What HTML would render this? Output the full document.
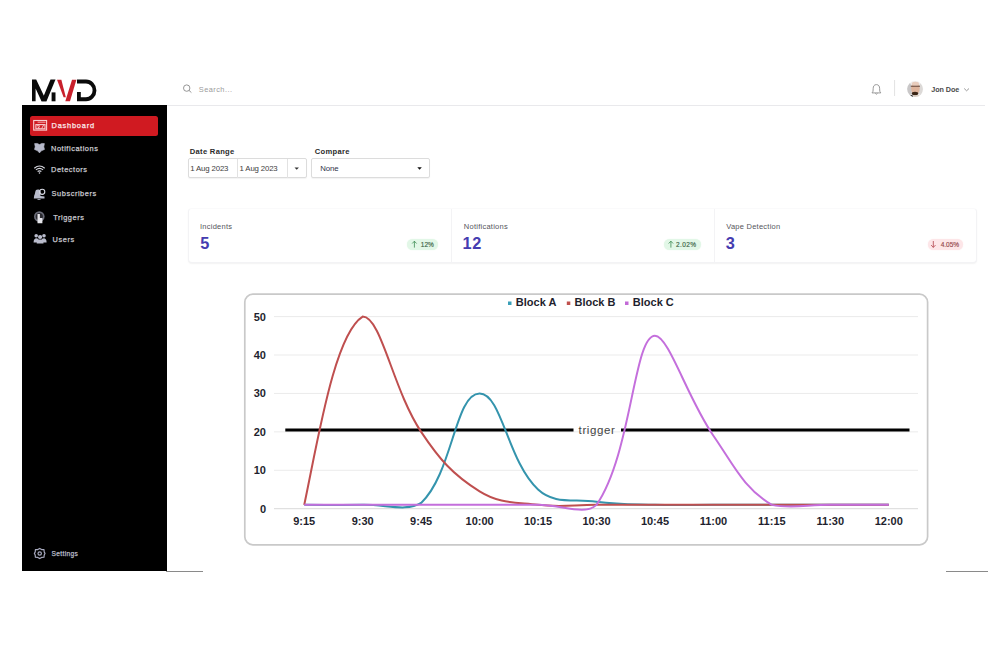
<!DOCTYPE html>
<html><head><meta charset="utf-8">
<style>
*{margin:0;padding:0;box-sizing:border-box}
html,body{width:996px;height:646px;background:#fff;overflow:hidden;font-family:"Liberation Sans",sans-serif}
.a{position:absolute;white-space:nowrap}
.sb{position:absolute;left:22px;top:104.7px;width:144.5px;height:466.8px;background:#000}
.act{position:absolute;left:30px;top:116px;width:128px;height:19.5px;background:#d01a21;border-radius:2.5px}
.nav{font-size:7.4px;font-weight:normal;-webkit-text-stroke:0.25px currentColor;color:#c9c9cf;letter-spacing:0.55px}
.hdrline{position:absolute;left:166.5px;top:104.8px;width:818px;height:1px;background:#e9e9ec}
.lbl{font-size:7.6px;font-weight:bold;color:#2b2b2b;letter-spacing:0.3px}
.box{position:absolute;border:1px solid #dcdcdc;border-radius:2px;background:#fff;box-shadow:0 1px 1px rgba(0,0,0,0.05)}
.dtxt{font-size:7.8px;color:#3e3e3e;letter-spacing:-0.15px}
.card{position:absolute;left:187.5px;top:208.3px;width:789.5px;height:54.5px;background:#fff;border:1px solid #f3f3f5;border-top-color:#fafafb;border-radius:4px;box-shadow:0 1px 1.5px rgba(0,0,0,0.05)}
.div{position:absolute;top:209px;width:1px;height:53px;background:#f3f3f5}
.ctitle{font-size:7.5px;color:#55555c;letter-spacing:0.25px}
.num{font-size:16.3px;font-weight:bold;color:#453cb0;letter-spacing:0.9px}
.pill{position:absolute;height:11px;border-radius:5.5px;font-size:6.5px;line-height:11px;text-align:center;font-weight:normal;-webkit-text-stroke:0.15px currentColor;letter-spacing:0px}
.g{background:#e2f7e7;color:#3b6446;box-shadow:0 0 1.2px #e2f7e7}
.r{background:#fde6e8;color:#94474c;box-shadow:0 0 1.2px #fde6e8}
</style></head><body>
<svg width="996" height="646" viewBox="0 0 996 646" style="position:absolute;left:0;top:0">
<rect x="244.8" y="294.2" width="682.8" height="250.6" rx="8" ry="8" fill="#fff" stroke="#c9c9c9" stroke-width="1.7"/>
<line x1="274.0" y1="316.60" x2="918.0" y2="316.60" stroke="#ebebeb" stroke-width="1"/>
<line x1="274.0" y1="355.02" x2="918.0" y2="355.02" stroke="#ebebeb" stroke-width="1"/>
<line x1="274.0" y1="393.44" x2="918.0" y2="393.44" stroke="#ebebeb" stroke-width="1"/>
<line x1="274.0" y1="431.86" x2="918.0" y2="431.86" stroke="#ebebeb" stroke-width="1"/>
<line x1="274.0" y1="470.28" x2="918.0" y2="470.28" stroke="#ebebeb" stroke-width="1"/>
<line x1="274.0" y1="508.70" x2="918.0" y2="508.70" stroke="#d9d9d9" stroke-width="1"/>
<text x="266" y="320.60" text-anchor="end" font-family="Liberation Sans" font-weight="bold" font-size="11" fill="#1f1f2e">50</text>
<text x="266" y="359.02" text-anchor="end" font-family="Liberation Sans" font-weight="bold" font-size="11" fill="#1f1f2e">40</text>
<text x="266" y="397.44" text-anchor="end" font-family="Liberation Sans" font-weight="bold" font-size="11" fill="#1f1f2e">30</text>
<text x="266" y="435.86" text-anchor="end" font-family="Liberation Sans" font-weight="bold" font-size="11" fill="#1f1f2e">20</text>
<text x="266" y="474.28" text-anchor="end" font-family="Liberation Sans" font-weight="bold" font-size="11" fill="#1f1f2e">10</text>
<text x="266" y="512.70" text-anchor="end" font-family="Liberation Sans" font-weight="bold" font-size="11" fill="#1f1f2e">0</text>
<text x="304.23" y="525" text-anchor="middle" font-family="Liberation Sans" font-weight="bold" font-size="11" fill="#1f1f2e">9:15</text>
<text x="362.68" y="525" text-anchor="middle" font-family="Liberation Sans" font-weight="bold" font-size="11" fill="#1f1f2e">9:30</text>
<text x="421.14" y="525" text-anchor="middle" font-family="Liberation Sans" font-weight="bold" font-size="11" fill="#1f1f2e">9:45</text>
<text x="479.59" y="525" text-anchor="middle" font-family="Liberation Sans" font-weight="bold" font-size="11" fill="#1f1f2e">10:00</text>
<text x="538.05" y="525" text-anchor="middle" font-family="Liberation Sans" font-weight="bold" font-size="11" fill="#1f1f2e">10:15</text>
<text x="596.50" y="525" text-anchor="middle" font-family="Liberation Sans" font-weight="bold" font-size="11" fill="#1f1f2e">10:30</text>
<text x="654.95" y="525" text-anchor="middle" font-family="Liberation Sans" font-weight="bold" font-size="11" fill="#1f1f2e">10:45</text>
<text x="713.41" y="525" text-anchor="middle" font-family="Liberation Sans" font-weight="bold" font-size="11" fill="#1f1f2e">11:00</text>
<text x="771.86" y="525" text-anchor="middle" font-family="Liberation Sans" font-weight="bold" font-size="11" fill="#1f1f2e">11:15</text>
<text x="830.32" y="525" text-anchor="middle" font-family="Liberation Sans" font-weight="bold" font-size="11" fill="#1f1f2e">11:30</text>
<text x="888.77" y="525" text-anchor="middle" font-family="Liberation Sans" font-weight="bold" font-size="11" fill="#1f1f2e">12:00</text>
<line x1="285.3" y1="430" x2="573.5" y2="430" stroke="#000" stroke-width="3"/>
<line x1="621" y1="430" x2="909.5" y2="430" stroke="#000" stroke-width="3"/>
<text x="597" y="433.8" text-anchor="middle" font-family="Liberation Sans" font-size="11.5" letter-spacing="0.6" fill="#444">trigger</text>
<path d="M304.23 504.86 C327.61 504.86 339.31 505.24 362.68 504.86 C386.07 504.47 406.16 512.00 421.14 502.94 C452.92 472.64 455.05 393.44 479.59 393.44 C501.82 393.44 507.51 461.19 538.05 489.49 C554.27 504.53 572.88 498.68 596.50 501.78 C619.64 504.83 631.56 504.24 654.95 504.86 C678.32 505.47 690.03 504.86 713.41 504.86 C736.79 504.86 748.48 504.86 771.86 504.86 C795.25 504.86 806.94 504.86 830.32 504.86 C853.70 504.86 865.39 504.86 888.77 504.86" fill="none" stroke="#3494ad" stroke-width="2"/>
<path d="M304.23 504.86 C318.00 440.00 334.44 334.24 362.68 316.60 C381.20 316.60 392.72 389.37 421.14 431.86 C439.48 459.30 452.38 474.42 479.59 491.41 C499.15 503.62 514.36 502.13 538.05 504.86 C561.13 507.51 573.12 504.86 596.50 504.86 C619.88 504.86 631.57 504.86 654.95 504.86 C678.34 504.86 690.03 504.86 713.41 504.86 C736.79 504.86 748.48 504.86 771.86 504.86 C795.25 504.86 806.94 504.86 830.32 504.86 C853.70 504.86 865.39 504.86 888.77 504.86" fill="none" stroke="#bf4f4f" stroke-width="2"/>
<path d="M304.23 504.86 C327.61 504.86 339.30 504.86 362.68 504.86 C386.06 504.86 397.75 504.86 421.14 504.86 C444.52 504.86 456.21 504.86 479.59 504.86 C502.97 504.86 514.66 504.86 538.05 504.86 C561.43 504.86 584.98 516.00 596.50 504.86 C631.75 453.89 633.66 335.81 654.95 335.81 C668.73 335.81 687.17 397.76 713.41 435.70 C733.94 465.38 743.45 488.05 771.86 504.86 C790.21 508.70 806.94 504.86 830.32 504.86 C853.70 504.86 865.39 504.86 888.77 504.86" fill="none" stroke="#c46fdc" stroke-width="2"/>
<rect x="508" y="301.5" width="3.5" height="3.5" fill="#3a9fb8"/>
<text x="515.8" y="305.7" font-family="Liberation Sans" font-weight="bold" font-size="11" fill="#1f1f2e">Block A</text>
<rect x="566.8" y="301.5" width="3.5" height="3.5" fill="#c0504d"/>
<text x="574.5" y="305.7" font-family="Liberation Sans" font-weight="bold" font-size="11" fill="#1f1f2e">Block B</text>
<rect x="625" y="301.5" width="3.5" height="3.5" fill="#c26ad6"/>
<text x="632.8" y="305.7" font-family="Liberation Sans" font-weight="bold" font-size="11" fill="#1f1f2e">Block C</text>
<g fill="#0a0a0a"><polygon points="32,79.6 36.2,79.6 46.5,101.3 41.5,101.3 35.6,88.5 35.6,101.3 32,101.3"/><polygon points="50.5,79.6 55.5,79.6 46.5,101.3 41.5,101.3"/><rect x="51.6" y="92.4" width="3.9" height="8.9"/></g>
<g fill="#c8202c"><polygon points="57,79.8 61.4,79.8 65.8,97.3 63.6,97.3"/><polygon points="72,79.8 76.4,79.8 70,101.3 65.3,101.3"/></g>
<path d="M77 79.6 H86 A10.4 10.85 0 0 1 86 101.3 H77 V92 H80.8 V97.3 H86 A6.6 6.85 0 0 0 86 83.6 H77 Z" fill="#0a0a0a"/>
</svg>
<div class="sb"></div>
<div class="act"></div>

<div class="a nav" style="left:51.6px;top:121.3px;color:#fbe9ea;letter-spacing:0.78px">Dashboard</div>
<div class="a nav" style="left:51px;top:144.2px">Notifications</div>
<div class="a nav" style="left:51px;top:165.3px">Detectors</div>
<div class="a nav" style="left:51.6px;top:189.3px">Subscribers</div>
<div class="a nav" style="left:53.2px;top:212.8px">Triggers</div>
<div class="a nav" style="left:52.6px;top:235.2px">Users</div>
<div class="a nav" style="left:51.5px;top:549.8px;font-size:6.6px;color:#babbc8;letter-spacing:0.35px">Settings</div>
<!-- header -->
<div class="a" style="left:198.8px;top:85.3px;font-size:7.4px;color:#9b9b9b;letter-spacing:0.45px">Search...</div>
<div class="a" style="left:931.3px;top:85.4px;font-size:7.2px;font-weight:bold;color:#4a4a4a;letter-spacing:-0.05px">Jon Doe</div>
<div class="hdrline"></div>
<!-- filters -->
<div class="a lbl" style="left:189.8px;top:147px">Date Range</div>
<div class="a lbl" style="left:314.8px;top:147px">Compare</div>
<div class="box" style="left:187.7px;top:158.3px;width:119px;height:20.2px"></div>
<div class="a" style="left:236.8px;top:158.8px;width:1px;height:19px;background:#e2e2e2"></div>
<div class="a" style="left:286.9px;top:158.8px;width:1px;height:19px;background:#e2e2e2"></div>
<div class="a dtxt" style="left:190.3px;top:164.2px">1 Aug 2023</div>
<div class="a dtxt" style="left:239.6px;top:164.2px">1 Aug 2023</div>
<div class="box" style="left:311.2px;top:158.3px;width:119.3px;height:20.2px"></div>
<div class="a dtxt" style="left:320.3px;top:164.2px;color:#2f3348">None</div>
<!-- stat card -->
<div class="card"></div>
<div class="div" style="left:451px"></div>
<div class="div" style="left:713.5px"></div>
<div class="a ctitle" style="left:200px;top:222.2px">Incidents</div>
<div class="a ctitle" style="left:463.8px;top:222.2px">Notifications</div>
<div class="a ctitle" style="left:726.2px;top:222.2px">Vape Detection</div>
<div class="a num" style="left:200.3px;top:233.6px">5</div>
<div class="a num" style="left:462.4px;top:233.6px">12</div>
<div class="a num" style="left:725.8px;top:233.6px">3</div>
<div class="pill g" style="left:407.3px;top:239px;width:31px"><span style="padding-left:9px">12%</span></div>
<div class="pill g" style="left:664.2px;top:239px;width:37px"><span style="padding-left:7px;letter-spacing:0.35px">2.02%</span></div>
<div class="pill r" style="left:927.5px;top:239px;width:35.8px"><span style="padding-left:9px">4.05%</span></div>
<!-- bottom lines -->
<div class="a" style="left:166.4px;top:571px;width:37px;height:1px;background:#8a8a8a"></div>
<div class="a" style="left:945.5px;top:571px;width:42px;height:1px;background:#8a8a8a"></div>
<!-- sidebar icons -->
<svg class="a" style="left:0;top:0" width="996" height="646" viewBox="0 0 996 646">
  <!-- calendar -->
  <g fill="none" stroke="#f9cfd1" stroke-width="1.1">
    <rect x="33.7" y="120.5" width="12.9" height="9.6"/>
    <rect x="35.9" y="124.6" width="9.1" height="4.2"/>
    <line x1="37.6" y1="122.2" x2="45.5" y2="122.2" stroke-width="0.8"/>
    <path d="M37 126 Q38.5 124.8 39.6 125.9 L37.8 128.2 H40.2 M41.6 128.6 L43.6 125.1" stroke-width="0.9"/>
  </g>
  <!-- bell -->
  <path d="M34.6 143.6 L37.2 143.4 L39.5 144.6 L41.8 143.4 L44.4 143.6 L43.8 146.8 L44.5 149.4 L41.4 150.8 L39.5 152.9 L37.6 150.8 L34.5 149.4 L35.2 146.8 Z" fill="#b6b9ca" stroke="#b6b9ca" stroke-width="0.6" stroke-linejoin="round"/>
  <!-- wifi -->
  <g fill="none" stroke="#d5d6de" stroke-width="1.15">
    <path d="M34.3 168.2 Q39.5 163.8 44.7 168.2"/>
    <path d="M35.9 169.9 Q39.5 167 43.1 169.9"/>
    <path d="M37.6 171.5 Q39.5 170.2 41.4 171.5"/>
  </g>
  <circle cx="39.5" cy="173" r="0.8" fill="#dedee6"/>
  <!-- subscribers -->
  <path d="M36 190 C37.5 189 40 189.5 40.5 191 C41 193 40 195 40.5 196 L44.5 196.5 L44.5 198.5 L33.8 198.5 L34.2 195.5 C35.2 194.5 35 191 36 190 Z" fill="#b9bccc"/>
  <circle cx="42.2" cy="191.8" r="2.6" fill="none" stroke="#d7d9e3" stroke-width="1.1"/>
  <line x1="37.5" y1="199.5" x2="40.5" y2="199.5" stroke="#b9bccc" stroke-width="0.8"/>
  <!-- triggers -->
  <circle cx="39.3" cy="216.5" r="5.3" fill="#6a6c78"/>
  <circle cx="39.3" cy="216.5" r="3.6" fill="#2a2a30"/>
  <path d="M37.5 214 h2.4 v4 h2.5 v5.3 h-4.9 z" fill="#e5e5ea"/>
  <!-- users -->
  <g fill="#b9bccc">
    <circle cx="36.2" cy="235.8" r="1.8"/>
    <circle cx="44" cy="235.8" r="1.8"/>
    <circle cx="40.1" cy="237" r="2.1"/>
    <path d="M33.6 242.5 C33.6 239.5 35 238.2 36.3 238.2 C37.6 238.2 38.6 239 38.8 240 L38.6 242.5 Z"/>
    <path d="M46.6 242.5 C46.6 239.5 45.2 238.2 43.9 238.2 C42.6 238.2 41.6 239 41.4 240 L41.6 242.5 Z"/>
    <path d="M36.7 243.5 C36.7 240.3 38.3 239.4 40.1 239.4 C41.9 239.4 43.5 240.3 43.5 243.5 Z"/>
  </g>
  <!-- gear -->
  <g fill="none" stroke="#a9abc0" stroke-width="1.2" stroke-linejoin="round"><polygon points="39.7,548.4 41.6,549.6 44,549.7 44.2,552 45,553.4 44.2,555 44,557.2 41.6,557.4 39.7,558.6 37.8,557.4 35.4,557.2 35.2,555 34.4,553.4 35.2,552 35.4,549.7 37.8,549.6"/><circle cx="39.7" cy="553.5" r="1.7"/></g>
  <!-- search icon -->
  <g fill="none" stroke="#8a8a8a" stroke-width="0.9">
    <circle cx="186.7" cy="88.1" r="3.2"/>
    <line x1="189" y1="90.4" x2="191.4" y2="92.6"/>
  </g>
  <!-- bell header -->
  <path d="M876.4 84.6 C878.8 84.6 879.6 86.5 879.6 88.3 L879.8 91.3 L880.8 92.9 H872 L873 91.3 L873.2 88.3 C873.2 86.5 874 84.6 876.4 84.6 Z" fill="none" stroke="#8f8f8f" stroke-width="0.9"/>
  <path d="M875.3 93.4 Q876.4 95 877.5 93.4" fill="none" stroke="#8f8f8f" stroke-width="0.9"/>
  <line x1="894.6" y1="80" x2="894.6" y2="96" stroke="#e2e2e2" stroke-width="1"/>
  <!-- avatar -->
  <defs><clipPath id="av"><circle cx="915.1" cy="89.05" r="8"/></clipPath><filter id="bl" x="-20%" y="-20%" width="140%" height="140%"><feGaussianBlur stdDeviation="0.6"/></filter></defs>
  <g clip-path="url(#av)"><g filter="url(#bl)">
    <rect x="906" y="80" width="19" height="19" fill="#efeceb"/>
    <ellipse cx="909.3" cy="89.5" rx="2.6" ry="6.5" fill="#a9a9ab" opacity="0.55"/>
    <ellipse cx="920.8" cy="89.5" rx="2" ry="6" fill="#c9c5c4" opacity="0.5"/>
    <ellipse cx="915.4" cy="88.6" rx="4.3" ry="6.3" fill="#deb49c"/>
    <ellipse cx="915.4" cy="84" rx="3.6" ry="2.2" fill="#e9cdbd"/>
    <rect x="910.8" y="85.7" width="9.2" height="1.1" fill="#5d4032" opacity="0.85"/>
    <ellipse cx="915" cy="93.6" rx="3.3" ry="1.8" fill="#3b2519"/>
    <ellipse cx="911.2" cy="96.5" rx="2" ry="1.6" fill="#1d1d1d"/>
    <rect x="913.5" y="95.2" width="6" height="3" fill="#d8cbc0"/>
  </g></g>
  <!-- chevron -->
  <path d="M964.2 88.5 L966.6 90.8 L969 88.5" fill="none" stroke="#8c8c8c" stroke-width="0.9"/>
  <!-- dropdown arrows -->
  <path d="M294.5 167.4 h4.4 l-2.2 2.3 z" fill="#333"/>
  <path d="M417.3 167.3 h4.5 l-2.25 2.5 z" fill="#111"/>
  <!-- pill arrows -->
  <g fill="none" stroke="#3c8a52" stroke-width="0.8">
    <path d="M414.4 247.6 V241.2 M412.2 243.5 L414.4 241.2 L416.6 243.5"/>
    <path d="M670.9 247.6 V241.2 M668.7 243.5 L670.9 241.2 L673.1 243.5"/>
  </g>
  <g fill="none" stroke="#b3404a" stroke-width="0.8">
    <path d="M933.3 241 V247.4 M931.1 245.1 L933.3 247.4 L935.5 245.1"/>
  </g>
</svg>
</body></html>
